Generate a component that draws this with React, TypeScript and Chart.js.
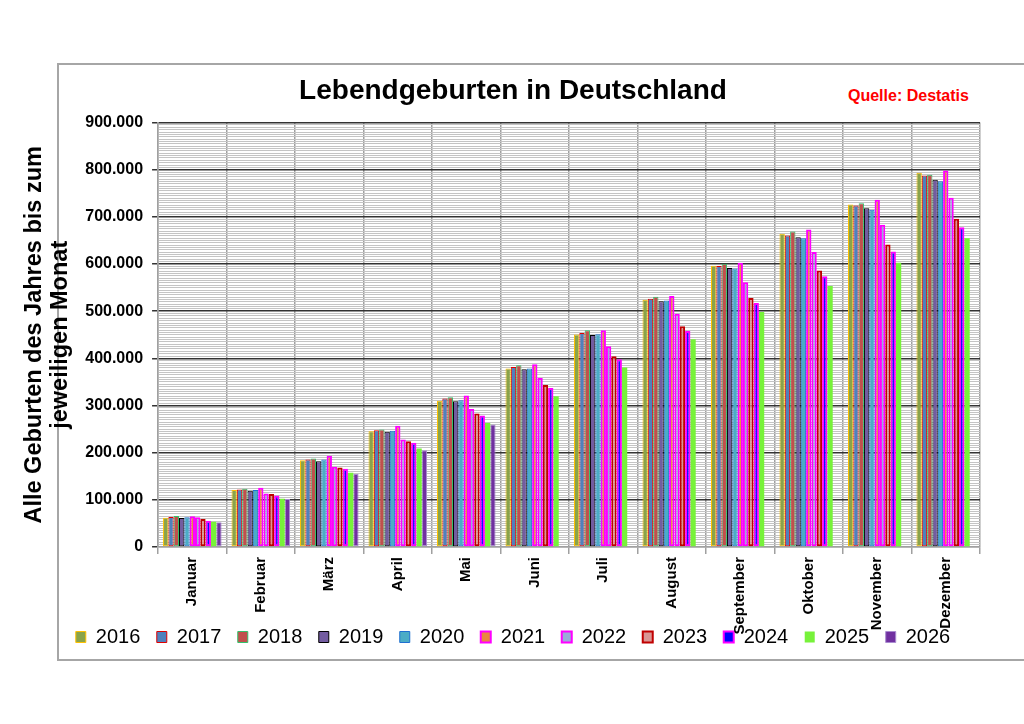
import React, { useEffect, useRef } from "react";
import { Chart, registerables } from "chart.js";

Chart.register(...registerables);

const FONT = "'Liberation Sans', Arial, sans-serif";

const months = ["Januar", "Februar", "März", "April", "Mai", "Juni", "Juli", "August", "September", "Oktober", "November", "Dezember"];

// kumulierte Lebendgeburten bis zum jeweiligen Monat
const y2016 = [62100, 120700, 184200, 245600, 309900, 378400, 450400, 524500, 596500, 664300, 726300, 793500];
const y2017 = [63500, 122000, 185700, 247800, 314800, 381800, 453800, 526600, 595700, 660700, 724200, 787700];
const y2018 = [65600, 123500, 187800, 249200, 317600, 385400, 459500, 530900, 600800, 669200, 729100, 789200];
const y2019 = [61400, 119300, 182100, 244200, 309200, 377000, 449600, 520900, 591500, 657100, 718500, 778600];
const y2020 = [62900, 120700, 185700, 246300, 311300, 378400, 451000, 523000, 590800, 655000, 715100, 775700];
const y2021 = [65000, 125600, 193400, 256900, 321200, 387500, 459500, 532200, 602900, 673400, 736300, 798300];
const y2022 = [63000, 113700, 170000, 228000, 292900, 358600, 425600, 494900, 561200, 625400, 683400, 740500];
const y2023 = [59300, 112200, 168700, 224500, 283100, 343700, 404500, 468000, 527900, 586600, 641600, 696000];
const y2024 = [55700, 109400, 165800, 220900, 278900, 337400, 398100, 458000, 517300, 573900, 626800, 678300];
const y2025 = [53600, 102400, 157300, 209000, 263200, 319700, 380500, 440500, 498300, 553300, 602900, 655000];
const y2026 = [52300, 101600, 154600, 205400, 259800];

const yMax = 900000;
const minorStep = 5000;
const majorStep = 100000;

const fmt = (v: number) => String(v).replace(/\B(?=(\d{3})+(?!\d))/g, ".");

// Monatsnamen dürfen wie im Original in die Legende hineinragen
const unclipLabels = {
  id: "unclipLabels",
  afterLayout(chart: any) {
    const x = chart.scales.x;
    if (x) x.bottom = chart.height;
  },
};

export default function App() {
  const canvasRef = useRef<HTMLCanvasElement | null>(null);
  const chartRef = useRef<Chart | null>(null);

  useEffect(() => {
    if (!canvasRef.current) return;
    if (chartRef.current) chartRef.current.destroy();

    Chart.defaults.font.family = FONT;

    const ds = (label: string, data: number[], fill: string, border: string, width: number) => ({
      label,
      data,
      backgroundColor: fill,
      borderColor: border,
      borderWidth: width,
      borderSkipped: false as const,
      barPercentage: 1.0,
      categoryPercentage: 0.855,
    });

    chartRef.current = new Chart(canvasRef.current, {
      type: "bar",
      data: {
        labels: months,
        datasets: [
          ds("2016", y2016, "#8aa34a", "#ffc000", 1),
          ds("2017", y2017, "#4f81bd", "#e00000", 1),
          ds("2018", y2018, "#c0504d", "#33c06a", 1),
          ds("2019", y2019, "#735ca0", "#000000", 1),
          ds("2020", y2020, "#4bacc6", "#1f6fd0", 1),
          ds("2021", y2021, "#e8873f", "#ff00ff", 2),
          ds("2022", y2022, "#9aabd8", "#ff00ff", 2),
          ds("2023", y2023, "#d99694", "#c00000", 2),
          ds("2024", y2024, "#0000ff", "#ff00ff", 2),
          ds("2025", y2025, "#77f23a", "#77f23a", 0),
          ds("2026", y2026, "#7030a0", "#a98bd0", 1),
        ],
      },
      options: {
        animation: false,
        responsive: true,
        maintainAspectRatio: false,
        layout: { padding: 0 },
        plugins: {
          title: {
            display: true,
            text: "Lebendgeburten in Deutschland",
            color: "#000",
            font: { size: 28, weight: "bold" },
            padding: { top: 10, bottom: 15 },
          },
          legend: {
            position: "bottom",
            labels: {
              boxWidth: 10,
              boxHeight: 11,
              padding: 16.5,
              color: "#000",
              font: { size: 20 },
            },
          },
          tooltip: { enabled: false },
        },
        scales: {
          x: {
            grid: { color: "#a0a0a0", lineWidth: 1.5, tickLength: 7, offset: true },
            border: { color: "#a0a0a0", width: 1.5 },
            ticks: {
              autoSkip: false,
              minRotation: 90,
              maxRotation: 90,
              padding: 3,
              color: "#000",
              font: { size: 15, weight: "bold" },
            },
            afterFit: (scale: any) => {
              scale.height = 63.5;
            },
          },
          y: {
            min: 0,
            max: yMax,
            ticks: {
              stepSize: minorStep,
              autoSkip: false,
              padding: 9,
              color: "#000",
              font: { size: 16, weight: "bold" },
              callback: (v: any) => (Number(v) % majorStep === 0 ? fmt(Number(v)) : ""),
            },
            grid: {
              color: (c: any) => {
                const v = c.tick ? c.tick.value : 1;
                if (v === 0) return "#a0a0a0";
                return v % majorStep === 0 ? "#333333" : "#c4c4c4";
              },
              lineWidth: (c: any) => (c.tick && c.tick.value % majorStep === 0 ? 1.5 : 1),
              tickColor: (c: any) => (c.tick && c.tick.value % majorStep === 0 ? "#333333" : "rgba(0,0,0,0)"),
              tickLength: 6,
            },
            border: { color: "#a0a0a0", width: 1.5 },
            title: {
              display: true,
              text: ["Alle Geburten des Jahres bis zum", "jeweiligen Monat"],
              color: "#000",
              font: { size: 23.5, weight: "bold", lineHeight: 1.09 },
              padding: { top: 2, bottom: 3 },
            },
          },
          // leerer Rand rechts, damit Titel und Legende über die ganze Breite zentriert bleiben
          yRight: {
            position: "right",
            display: true,
            grid: { display: false },
            ticks: { display: false },
            border: { display: false },
            afterFit: (scale: any) => {
              scale.width = 26;
            },
          },
        },
      },
      plugins: [unclipLabels],
    });

    return () => {
      if (chartRef.current) {
        chartRef.current.destroy();
        chartRef.current = null;
      }
    };
  }, []);

  return (
    <div style={{ position: "absolute", left: 0, top: 0, width: 1024, height: 724, background: "#fff", overflow: "hidden" }}>
      <div
        style={{
          position: "absolute",
          left: 57,
          top: 63,
          width: 1000,
          height: 594,
          border: "2px solid #a6a6a6",
        }}
      />
      <div
        style={{
          position: "absolute",
          left: 848,
          top: 87,
          color: "#ff0000",
          fontFamily: FONT,
          fontWeight: "bold",
          fontSize: 16,
          whiteSpace: "nowrap",
        }}
      >
        Quelle: Destatis
      </div>
      <div style={{ position: "absolute", left: 20, top: 64, width: 986, height: 593 }}>
        <canvas ref={canvasRef} />
      </div>
    </div>
  );
}
